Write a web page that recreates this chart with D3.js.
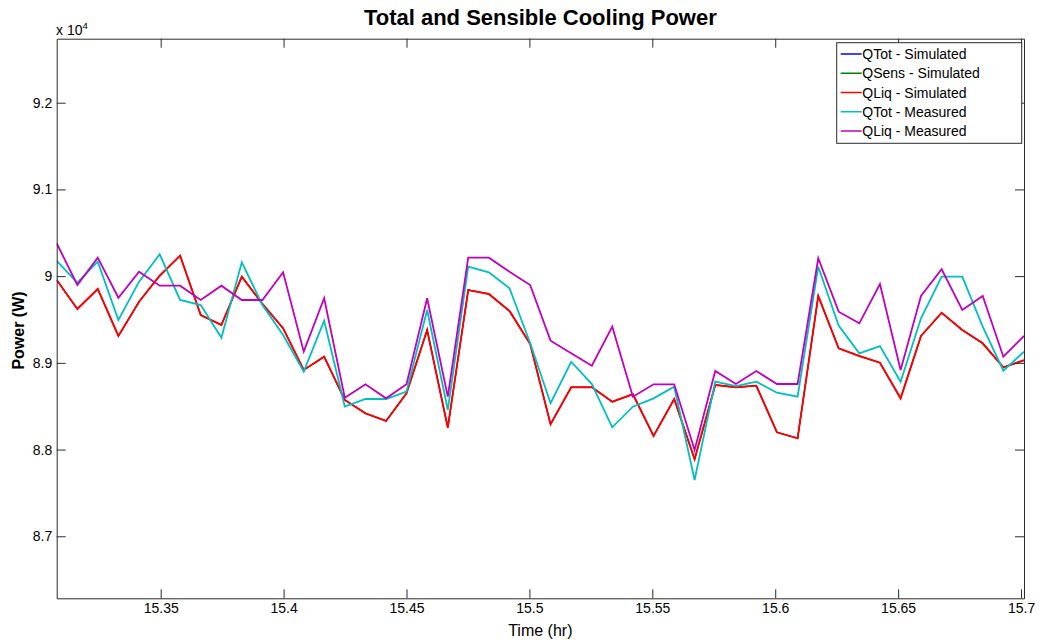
<!DOCTYPE html>
<html>
<head>
<meta charset="utf-8">
<script src="https://cdn.jsdelivr.net/npm/d3@7/dist/d3.min.js"></script>
<style>
  html, body { margin: 0; padding: 0; background: #fff; }
  svg { display: block; font-family: "Liberation Sans", Arial, Helvetica, sans-serif; }
</style>
</head>
<body>
<svg id="chart" width="1039" height="641"></svg>
<script>
// Sample times (hr)
const timeHr = [
  15.3077, 15.3161, 15.3244, 15.3328, 15.3412, 15.3496, 15.3579, 15.3663,
  15.3747, 15.3830, 15.3914, 15.3998, 15.4082, 15.4165, 15.4249, 15.4333,
  15.4417, 15.4500, 15.4584, 15.4668, 15.4751, 15.4835, 15.4919, 15.5003,
  15.5086, 15.5170, 15.5254, 15.5337, 15.5421, 15.5505, 15.5589, 15.5672,
  15.5756, 15.5840, 15.5923, 15.6007, 15.6091, 15.6175, 15.6258, 15.6342,
  15.6426, 15.6510, 15.6593, 15.6677, 15.6761, 15.6844, 15.6928, 15.7012
];

// Simulated total cooling power (W)
const qTotSim = [
  89956, 89621, 89852, 89310, 89705, 90005, 90236, 89552,
  89437, 89994, 89679, 89399, 88918, 89071, 88572, 88418,
  88330, 88649, 89379, 88252, 89840, 89794, 89598, 89218,
  88292, 88718, 88718, 88552, 88638, 88157, 88583, 87888,
  88745, 88718, 88737, 88199, 88130, 89771, 89168, 89079,
  89002, 88591, 89310, 89578, 89379, 89226, 88949, 89030
];

// Simulated sensible cooling power (W)
const qSensSim = [
  89956, 89621, 89852, 89310, 89705, 90005, 90236, 89552,
  89437, 89994, 89679, 89399, 88918, 89071, 88572, 88418,
  88330, 88649, 89379, 88252, 89840, 89794, 89598, 89218,
  88292, 88718, 88718, 88552, 88638, 88157, 88583, 87888,
  88745, 88718, 88737, 88199, 88130, 89771, 89168, 89079,
  89002, 88591, 89310, 89578, 89379, 89226, 88949, 89030
];

// Simulated liquid-side cooling power (W)
const qLiqSim = [
  89956, 89621, 89852, 89310, 89705, 90005, 90236, 89552,
  89437, 89994, 89679, 89399, 88918, 89071, 88572, 88418,
  88330, 88649, 89379, 88252, 89840, 89794, 89598, 89218,
  88292, 88718, 88718, 88552, 88638, 88157, 88583, 87888,
  88745, 88718, 88737, 88199, 88130, 89771, 89168, 89079,
  89002, 88591, 89310, 89578, 89379, 89226, 88949, 89030
];

// Measured total cooling power (W)
const qTotMeas = [
  90175, 89924, 90167, 89494, 89936, 90252, 89725, 89667,
  89290, 90160, 89667, 89321, 88898, 89486, 88495, 88583,
  88583, 88668, 89610, 88457, 90109, 90044, 89860, 89229,
  88534, 89013, 88756, 88257, 88495, 88591, 88725, 87649,
  88783, 88733, 88783, 88656, 88610, 90109, 89429, 89110,
  89194, 88783, 89514, 89994, 89994, 89417, 88910, 89129
];

// Measured liquid-side cooling power (W)
const qLiqMeas = [
  90379, 89898, 90213, 89751, 90051, 89890, 89890, 89725,
  89890, 89725, 89725, 90044, 89129, 89745, 88598, 88753,
  88591, 88753, 89745, 88610, 90213, 90213, 90051, 89898,
  89256, 89110, 88967, 89417, 88610, 88753, 88753, 87995,
  88906, 88756, 88906, 88756, 88756, 90206, 89590, 89456,
  89909, 88918, 89771, 90079, 89610, 89771, 89071, 89310
];

const seriesNames = ["QTot - Simulated", "QSens - Simulated", "QLiq - Simulated", "QTot - Measured", "QLiq - Measured"];
const seriesColors = ["#0000ff", "#008000", "#ff0000", "#00bfbf", "#bf00bf"];
const seriesValues = [qTotSim, qSensSim, qLiqSim, qTotMeas, qLiqMeas];
const seriesWidths = [1.2, 1.2, 1.9, 1.8, 1.8];

const xTicks = [15.35, 15.4, 15.45, 15.5, 15.55, 15.6, 15.65, 15.7];
const yTicks = [87000, 88000, 89000, 90000, 91000, 92000];

const xDomain = [15.3077, 15.7012];
const yDomain = [86285, 92738];

const svg = d3.select("#chart");
const W = 1039, H = 641;
const plot = { left: 56.7, right: 1024, top: 38.7, bottom: 598.3 };

svg.append("rect").attr("width", W).attr("height", H).attr("fill", "#fff");

const x = d3.scaleLinear().domain(xDomain).range([plot.left, plot.right]);
const y = d3.scaleLinear().domain(yDomain).range([plot.bottom, plot.top]);

const axisColor = "#2b2b2b";
const tickLen = 9;

svg.append("defs").append("clipPath").attr("id", "plotClip")
  .append("rect")
  .attr("x", plot.left).attr("y", plot.top)
  .attr("width", plot.right - plot.left).attr("height", plot.bottom - plot.top);

// Data lines
const line = d3.line().x((d, i) => x(timeHr[i])).y(d => y(d));
const lineG = svg.append("g").attr("clip-path", "url(#plotClip)");
seriesValues.forEach((vals, k) => {
  lineG.append("path")
    .datum(vals)
    .attr("fill", "none")
    .attr("stroke", seriesColors[k])
    .attr("stroke-width", seriesWidths[k])
    .attr("stroke-linejoin", "miter")
    .attr("d", line);
});

// Axes: ticks on all four sides
const fmtX = v => String(+v.toFixed(2));
const fmtY = v => String(+(v / 10000).toFixed(1));

function styleAxis(g) {
  g.selectAll("path.domain").attr("stroke", axisColor).attr("stroke-width", 1);
  g.selectAll(".tick line").attr("stroke", axisColor).attr("stroke-width", 1);
  g.selectAll(".tick text").attr("fill", "#000").style("font-size", "14px")
    .style("font-family", "'Liberation Sans', Arial, sans-serif");
}

const xAxisB = svg.append("g").attr("transform", `translate(0,${plot.bottom})`)
  .call(d3.axisBottom(x).tickValues(xTicks).tickFormat(fmtX).tickSizeInner(-tickLen).tickSizeOuter(0).tickPadding(5));
styleAxis(xAxisB);

const xAxisT = svg.append("g").attr("transform", `translate(0,${plot.top})`)
  .call(d3.axisTop(x).tickValues(xTicks).tickFormat("").tickSizeInner(-tickLen).tickSizeOuter(0));
styleAxis(xAxisT);

const yAxisL = svg.append("g").attr("transform", `translate(${plot.left},0)`)
  .call(d3.axisLeft(y).tickValues(yTicks).tickFormat(fmtY).tickSizeInner(-tickLen).tickSizeOuter(0).tickPadding(4.5));
styleAxis(yAxisL);

const yAxisR = svg.append("g").attr("transform", `translate(${plot.right},0)`)
  .call(d3.axisRight(y).tickValues(yTicks).tickFormat("").tickSizeInner(-tickLen).tickSizeOuter(0));
styleAxis(yAxisR);

// Exponent marker above the y axis
const expo = svg.append("text").attr("x", 56).attr("y", 34.5)
  .style("font-size", "14px").attr("fill", "#000");
expo.append("tspan").text("x 10");
expo.append("tspan").attr("dy", -6).style("font-size", "9.5px").text("4");

// Title and axis labels
svg.append("text").attr("x", (plot.left + plot.right) / 2).attr("y", 25)
  .attr("text-anchor", "middle").style("font-size", "22px").style("font-weight", "bold")
  .attr("fill", "#000").text("Total and Sensible Cooling Power");

svg.append("text").attr("x", (plot.left + plot.right) / 2).attr("y", 636)
  .attr("text-anchor", "middle").style("font-size", "16px")
  .attr("fill", "#000").text("Time (hr)");

svg.append("text")
  .attr("transform", `translate(24,${(plot.top + plot.bottom) / 2 + 12}) rotate(-90)`)
  .attr("text-anchor", "middle").style("font-size", "16px").style("font-weight", "bold")
  .attr("fill", "#000").text("Power (W)");

// Legend
const leg = { x: 836.7, y: 42.7, w: 185, h: 100.6, row0: 54, rowStep: 19.25 };
const legG = svg.append("g");
legG.append("rect").attr("x", leg.x).attr("y", leg.y).attr("width", leg.w).attr("height", leg.h)
  .attr("fill", "#fff").attr("stroke", axisColor).attr("stroke-width", 1);
seriesNames.forEach((name, k) => {
  const cy = leg.row0 + k * leg.rowStep;
  legG.append("line").attr("x1", leg.x + 4).attr("x2", leg.x + 25).attr("y1", cy).attr("y2", cy)
    .attr("stroke", seriesColors[k]).attr("stroke-width", 1.5);
  legG.append("text").attr("x", leg.x + 25.6).attr("y", cy + 5)
    .style("font-size", "14px").attr("fill", "#000").text(name);
});
</script>
</body>
</html>
